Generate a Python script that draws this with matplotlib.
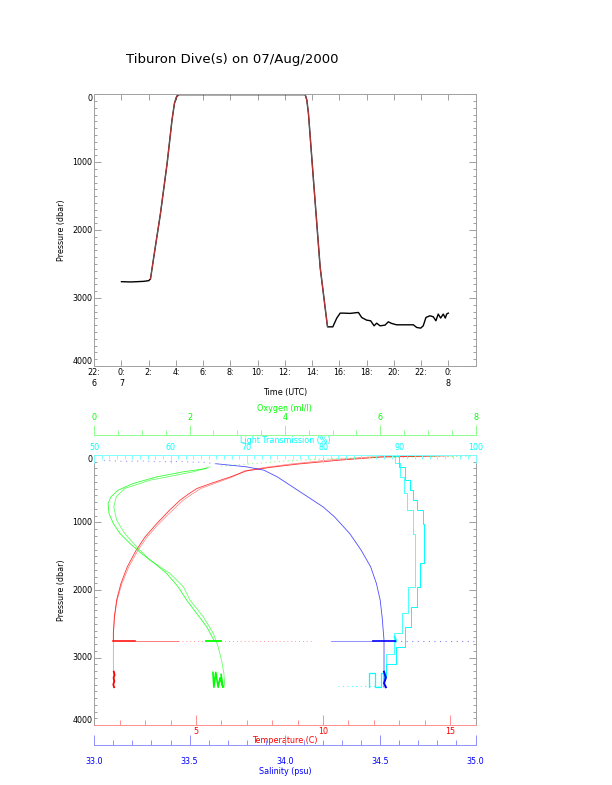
import matplotlib
matplotlib.use("Agg")
import matplotlib.pyplot as plt
from matplotlib.ticker import MultipleLocator, FixedLocator, FormatStrFormatter

# ---- top panel: vehicle depth vs time (hours since 00:00 on the 7th)
dive_hours = [0.0, 0.66, 1.15, 1.64, 2.0, 2.13, 2.37, 2.86, 3.35, 3.71, 3.89, 4.03, 4.2,
              13.49, 13.61, 13.73, 14.1, 14.59, 15.13, 15.52, 15.81, 16.06, 16.3, 16.79,
              17.4, 17.64, 18.0, 18.3, 18.55, 18.74, 18.99, 19.35, 19.6, 19.84, 20.2,
              21.43, 21.68, 21.97, 22.16, 22.36, 22.65, 22.9, 23.09, 23.26, 23.44, 23.63,
              23.78, 23.88, 24.0]
dive_press = [2759, 2763, 2759, 2754, 2744, 2719, 2399, 1759, 1020, 379, 133, 44, 5,
              5, 84, 281, 1266, 2547, 3424, 3424, 3295, 3222, 3222, 3226,
              3212, 3286, 3325, 3335, 3409, 3370, 3409, 3399, 3350, 3374, 3394,
              3394, 3433, 3443, 3409, 3286, 3261, 3276, 3335, 3236, 3295, 3236,
              3295, 3236, 3222]
transit_start, transit_end = 5, 18   # indices of the red (ascent/surface/descent) part

time_ticks = [-2, 0, 2, 4, 6, 8, 10, 12, 14, 16, 18, 20, 22, 24]
time_labels = ["22:\n6", "0:\n7", "2:", "4:", "6:", "8:", "10:", "12:", "14:",
               "16:", "18:", "20:", "22:", "0:\n8"]
press_ticks = [0, 1000, 2000, 3000, 4000]

# ---- bottom panel: CTD profiles (two casts)
temp_p = [5, 15, 30, 75, 135, 185, 235, 324, 420, 496, 580, 669, 818, 1015, 1213,
          1410, 1657, 1903, 2150, 2398, 2644, 2745]
temp_a = [15.8, 14.5, 12.3, 10.7, 9.0, 7.9, 7.0, 6.36, 5.6, 5.04, 4.7, 4.38, 3.96,
          3.46, 3.0, 2.65, 2.3, 2.05, 1.88, 1.79, 1.75, 1.75]
temp_b_p = temp_p + [2900, 3100, 3300, 3440]
temp_b = [15.5, 13.8, 11.8, 10.2, 8.7, 7.7, 6.9, 6.45, 5.75, 5.2, 4.85, 4.5, 4.08,
          3.55, 3.08, 2.72, 2.36, 2.09, 1.9, 1.8, 1.76, 1.76, 1.75, 1.75, 1.76, 1.76]
temp_bot_p = [3210, 3260, 3300, 3350, 3400, 3440]
temp_bot = [1.77, 1.80, 1.76, 1.79, 1.75, 1.78]
temp_streak = [1.75, 2.1, 2.6, 3.4, 4.3, 5.4, 6.6, 7.9, 9.6]

oxy_a_p = [200, 249, 324, 422, 521, 620, 719, 867, 1015, 1163, 1311, 1459, 1607,
           1755, 1953, 2150, 2348, 2545, 2743]
oxy_a = [2.36, 1.87, 1.31, 0.82, 0.50, 0.35, 0.29, 0.31, 0.40, 0.54, 0.75, 0.99,
         1.27, 1.52, 1.76, 1.94, 2.15, 2.36, 2.51]
oxy_b_p = [176, 249, 373, 496, 620, 768, 966, 1163, 1360, 1558, 1755, 1953, 2150,
           2398, 2644, 2842, 3040, 3237, 3434]
oxy_b = [2.43, 2.08, 1.17, 0.64, 0.46, 0.41, 0.47, 0.64, 0.89, 1.17, 1.59, 1.87,
         2.01, 2.29, 2.50, 2.60, 2.67, 2.72, 2.74]
oxy_surf_p = [15, 25, 20, 35, 30, 45, 60, 90, 130, 170]
oxy_surf = [7.9, 7.4, 6.9, 6.5, 6.0, 5.5, 4.8, 4.0, 3.3, 2.6]
oxy_bot_p = [3220, 3440, 3220, 3440, 3300, 3440, 3250]
oxy_bot = [2.49, 2.51, 2.55, 2.60, 2.64, 2.70, 2.66]
oxy_streak = [2.35, 2.45, 2.55, 2.65]

sal_p = [130, 176, 225, 324, 472, 620, 768, 916, 1163, 1410, 1657, 1903,
         2150, 2398, 2743, 3000, 3200, 3440]
sal = [33.64, 33.80, 33.89, 33.96, 34.04, 34.12, 34.20, 34.26, 34.34, 34.40,
       34.45, 34.48, 34.50, 34.51, 34.52, 34.52, 34.52, 34.52]
sal_surf_p = [80, 95, 90, 100, 95, 105, 110, 125, 130]
sal_surf = [33.05, 33.15, 33.25, 33.35, 33.45, 33.52, 33.58, 33.62, 33.64]
sal_streak = [34.24, 34.40, 34.46, 34.52, 34.58, 34.75, 34.99]

lt_a_p = [20, 176, 373, 521, 669, 818, 1015, 1607, 1953, 2249, 2545, 2842, 3089, 3287]
lt_a = [89.6, 89.9, 90.7, 91.4, 91.8, 92.3, 93.1, 93.3, 92.7, 92.3, 91.6, 90.7, 89.6, 88.3]
lt_b_p = [20, 126, 324, 570, 818, 1163, 1558, 1953, 2348, 2644, 2941, 3237]
lt_b = [89.2, 89.5, 90.1, 90.6, 91.0, 91.8, 92.0, 92.0, 91.2, 90.3, 89.3, 88.2]
lt_bot_p = [3440, 3230, 3230, 3440, 3440, 3230, 3230, 3330]
lt_bot = [86.0, 86.0, 86.8, 86.8, 87.6, 87.6, 88.0, 88.0]
lt_row = [82.0, 83.5, 85.0, 86.5, 88.0]

plt.rcParams['font.family'] = ['DejaVu Sans']
fig = plt.figure(figsize=(6.12, 7.85), dpi=100)
GRAY = '#a0a0a0'
SMALL = 5.8


def style_pressure(ax):
    ax.set_ylim(4000, 0)
    ax.yaxis.set_major_locator(FixedLocator(press_ticks))
    ax.yaxis.set_minor_locator(MultipleLocator(100))
    ax.tick_params(axis='y', which='both', direction='in', left=True, right=True,
                   colors=GRAY, labelcolor='black', labelsize=SMALL, pad=1.5)
    ax.tick_params(axis='y', which='major', length=5, width=0.7)
    ax.tick_params(axis='y', which='minor', length=2.4, width=0.7)
    ax.set_yticklabels([str(t) for t in press_ticks])
    labs = ax.get_yticklabels()
    for lab in labs[1:-1]:
        lab.set_va('center')
    labs[0].set_va('top')
    labs[-1].set_va('bottom')
    ax.set_ylabel('Pressure (dbar)', fontsize=SMALL)
    ax.yaxis.set_label_coords(-0.073, 0.5)


# ---------------- top panel
ax1 = fig.add_axes([0.154, 0.5338, 0.623, 0.3461])
ax1.plot(dive_hours, dive_press, color='black', lw=1.0)
ax1.plot(dive_hours[transit_start:transit_end + 1], dive_press[transit_start:transit_end + 1],
         color='#ff5050', lw=0.5)
ax1.set_xlim(-2, 26)
ax1.set_xticks(time_ticks)
ax1.set_xticklabels(time_labels, fontsize=SMALL, linespacing=1.25)
ax1.tick_params(axis='x', direction='in', top=True, bottom=True, length=4, width=0.7,
                colors=GRAY, labelcolor='black', pad=1.5)
ax1.set_xlabel('Time (UTC)', fontsize=SMALL)
ax1.xaxis.set_label_coords(0.5, -0.082)
ax1.xaxis.label.set_va('top')
style_pressure(ax1)
for s in ax1.spines.values():
    s.set_color(GRAY)
    s.set_linewidth(0.7)

fig.text(232.5 / 612, 1 - 60 / 785, 'Tiburon Dive(s) on 07/Aug/2000', ha='center',
         va='center', fontsize=9.5)

# ---------------- bottom panel
ax2 = fig.add_axes([0.154, 0.0764, 0.623, 0.344])
ax_l = ax2.twiny()
ax_o = ax2.twiny()
ax_s = ax2.twiny()

RED, GREEN, BLUE, CYAN = '#ff0000', '#00ff00', '#0000ff', '#00ffff'
SPARSE = (0, (1, 3))

# temperature (bottom frame edge)
ax2.plot(temp_a, temp_p, color=RED, lw=0.6, alpha=0.8)
ax2.plot(temp_b, temp_b_p, color=RED, lw=0.5, alpha=0.5)
ax2.plot(temp_bot, temp_bot_p, color=RED, lw=1.3)
ax2.plot(temp_streak[:3], [2750] * 3, color=RED, lw=1.1)
ax2.plot(temp_streak[2:5], [2755] * 3, color=RED, lw=0.6, alpha=0.6)
ax2.plot(temp_streak[4:], [2750] * 5, color=RED, lw=0.7, ls=SPARSE, alpha=0.4)
ax2.set_xlim(1, 16)
ax2.xaxis.set_major_locator(FixedLocator([5, 10, 15]))
ax2.xaxis.set_minor_locator(MultipleLocator(1))
ax2.tick_params(axis='x', which='both', direction='in', top=False, bottom=True,
                colors='#ff9090', labelcolor=RED, labelsize=SMALL, pad=1.5, width=0.7)
ax2.tick_params(axis='x', which='major', length=7.2)
ax2.tick_params(axis='x', which='minor', length=3.6)
ax2.set_xlabel('Temperature (C)', fontsize=SMALL, color=RED)
ax2.xaxis.set_label_coords(0.5, -0.042)
ax2.xaxis.label.set_va('top')
style_pressure(ax2)
ax2.spines['left'].set_color(GRAY)
ax2.spines['right'].set_color(GRAY)
ax2.spines['top'].set_color('#80ffff')
ax2.spines['bottom'].set_color('#ff9090')
for s in ax2.spines.values():
    s.set_linewidth(0.7)

# light transmission (top frame edge)
ax_l.plot(lt_a, lt_a_p, color=CYAN, lw=0.7, drawstyle='steps-post')
ax_l.plot(lt_b, lt_b_p, color=CYAN, lw=0.7, drawstyle='steps-post', alpha=0.7)
ax_l.plot(lt_bot, lt_bot_p, color=CYAN, lw=0.9)
ax_l.plot(lt_row, [3420] * 5, color=CYAN, lw=0.8, ls=SPARSE, alpha=0.7)
ax_l.plot([89.4, 89.6, 89.5], [2690, 2750, 2770], color=CYAN, lw=1.2)
ax_l.set_xlim(50, 100)
ax_l.xaxis.set_major_locator(MultipleLocator(10))
ax_l.xaxis.set_minor_locator(MultipleLocator(1))
ax_l.tick_params(axis='x', which='both', direction='in', colors='#80ffff',
                 labelcolor=CYAN, labelsize=SMALL, pad=1.8, width=0.7)
ax_l.tick_params(axis='x', which='major', length=5.5)
ax_l.tick_params(axis='x', which='minor', length=2.8)
ax_l.set_xlabel('Light Transmission (%)', fontsize=SMALL, color=CYAN)
ax_l.xaxis.set_label_coords(0.5, 1.037)
ax_l.xaxis.label.set_va('bottom')
for k, s in ax_l.spines.items():
    s.set_visible(False)

# oxygen (separate axis above)
ax_o.plot(oxy_a, oxy_a_p, color=GREEN, lw=0.6, alpha=0.8)
ax_o.plot(oxy_b, oxy_b_p, color=GREEN, lw=0.6, alpha=0.6)
ax_o.plot(oxy_surf, oxy_surf_p, color=GREEN, lw=0.8, ls=SPARSE, alpha=0.5)
ax_o.plot(oxy_bot, oxy_bot_p, color=GREEN, lw=1.2)
ax_o.plot(oxy_streak, [2750] * 4, color=GREEN, lw=1.3)
ax_o.set_xlim(0, 8)
ax_o.xaxis.set_major_locator(MultipleLocator(2))
ax_o.xaxis.set_minor_locator(MultipleLocator(0.5))
ax_o.tick_params(axis='x', which='both', direction='out', colors='#90ff90',
                 labelcolor=GREEN, labelsize=SMALL, pad=2.0, width=0.7)
ax_o.tick_params(axis='x', which='major', length=7.2)
ax_o.tick_params(axis='x', which='minor', length=3.6)
ax_o.set_xlabel('Oxygen (ml/l)', fontsize=SMALL, color=GREEN)
ax_o.xaxis.set_label_coords(0.5, 1.156)
ax_o.xaxis.label.set_va('bottom')
for k, s in ax_o.spines.items():
    s.set_visible(k == 'top')
ax_o.spines['top'].set_position(('axes', 1 + 20 / 270))
ax_o.spines['top'].set_color('#90ff90')
ax_o.spines['top'].set_linewidth(0.7)

# salinity (separate axis below)
ax_s.plot(sal, sal_p, color=BLUE, lw=0.6, alpha=0.7)
ax_s.plot(sal_surf, sal_surf_p, color=BLUE, lw=0.8, ls=(0, (1, 4)), alpha=0.4)
ax_s.plot([34.52, 34.53, 34.52, 34.53], [3210, 3300, 3380, 3440], color=BLUE, lw=1.4)
ax_s.plot(sal_streak[2:5], [2750] * 3, color=BLUE, lw=1.2)
ax_s.plot(sal_streak[:3], [2750] * 3, color=BLUE, lw=0.6, alpha=0.5)
ax_s.plot(sal_streak[4:], [2750] * 3, color=BLUE, lw=0.8, ls=(0, (1, 4)), alpha=0.5)
ax_s.set_xlim(33, 35)
ax_s.xaxis.set_ticks_position('bottom')
ax_s.xaxis.set_label_position('bottom')
ax_s.xaxis.set_major_locator(MultipleLocator(0.5))
ax_s.xaxis.set_minor_locator(MultipleLocator(0.1))
ax_s.xaxis.set_major_formatter(FormatStrFormatter('%.1f'))
ax_s.tick_params(axis='x', which='both', direction='in', colors='#9090ff',
                 labelcolor=BLUE, labelsize=SMALL, pad=8.3, width=0.7)
ax_s.tick_params(axis='x', which='major', length=7.2)
ax_s.tick_params(axis='x', which='minor', length=3.6)
ax_s.set_xlabel('Salinity (psu)', fontsize=SMALL, color=BLUE)
ax_s.xaxis.set_label_coords(0.5, -0.155)
ax_s.xaxis.label.set_va('top')
for k, s in ax_s.spines.items():
    s.set_visible(k == 'bottom')
ax_s.spines['bottom'].set_position(('axes', -20 / 270))
ax_s.spines['bottom'].set_color('#9090ff')
ax_s.spines['bottom'].set_linewidth(0.7)

fig.savefig('out.png', dpi=100)
